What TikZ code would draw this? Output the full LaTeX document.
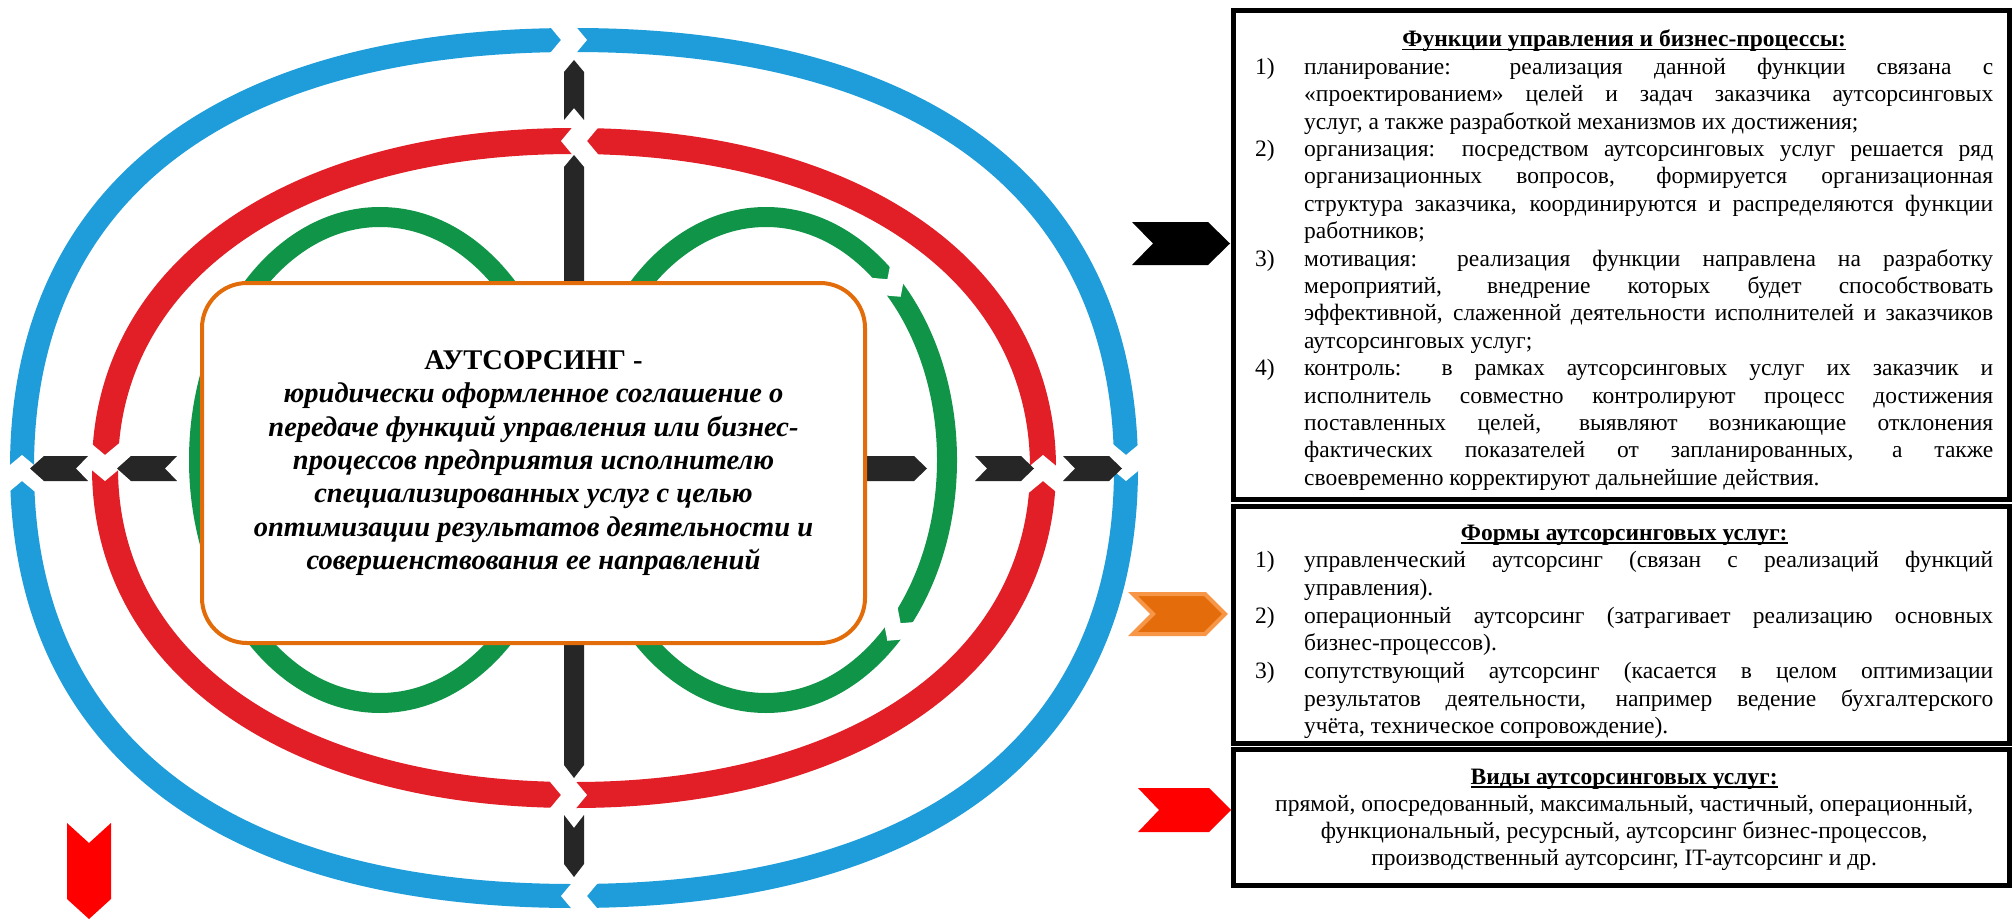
\documentclass[tikz,border=0pt]{standalone}
\usepackage{fontspec}
\setmainfont{Liberation Serif}
\definecolor{bandblue}{RGB}{30,157,218}
\definecolor{bandred}{RGB}{226,30,38}
\definecolor{bandgreen}{RGB}{16,148,72}
\definecolor{arrowblack}{RGB}{38,38,38}
\definecolor{boxorange}{RGB}{227,108,10}
\definecolor{chevorange}{RGB}{228,108,10}
\definecolor{chevorangelight}{RGB}{247,150,70}
\definecolor{chevred}{RGB}{255,0,0}
\newcommand{\squircle}[6]{\draw[#6] ({#1+#3},{#2}) .. controls ({#1+#3},{#2+#5*#4}) and ({#1+#5*#3},{#2+#4}) .. ({#1},{#2+#4}) .. controls ({#1-#5*#3},{#2+#4}) and ({#1-#3},{#2+#5*#4}) .. ({#1-#3},{#2}) .. controls ({#1-#3},{#2-#5*#4}) and ({#1-#5*#3},{#2-#4}) .. ({#1},{#2-#4}) .. controls ({#1+#5*#3},{#2-#4}) and ({#1+#3},{#2-#5*#4}) .. ({#1+#3},{#2}) -- cycle;}
\newcommand{\gapcut}[6]{\fill[white,shift={(#1,#2)},rotate=#3] ({-#4/2-#6*#5},{-#5}) -- ({-#4/2},0) -- ({-#4/2-#6*#5},{#5}) -- ({#4/2-#6*#5},{#5}) -- ({#4/2},0) -- ({#4/2-#6*#5},{-#5}) -- cycle;}
\newcommand{\ulin}[1]{\setbox0=\hbox{#1}\rlap{\rule[-3.5pt]{\wd0}{1.8pt}}\box0}
\newcommand{\itemfirst}[2]{\hbox{\hbox to 49pt{#1\hfil}\hbox to 689pt{#2}}}
\newcommand{\itemjust}[1]{\hbox{\hskip49pt\hbox to 689pt{#1}}}
\newcommand{\itemlast}[1]{\hbox{\hskip49pt #1}}
\newcommand{\headline}[1]{\hbox to 738pt{\hfil\bfseries\ulin{#1}\hfil}}
\newcommand{\centline}[1]{\hbox to 738pt{\hfil #1\hfil}}
\tikzset{
  blueband/.style={draw=bandblue, line width=24pt},
  redband/.style={draw=bandred, line width=26pt},
  greenband/.style={draw=bandgreen, line width=20pt},
  blackarrow/.style={fill=arrowblack},
  outbox/.style={draw=black, line width=5pt},
  txt/.style={inner sep=0pt, anchor=base west, font=\fontsize{23.5}{27.4}\selectfont},
  defbox/.style={draw=boxorange, line width=4pt, rounded corners=45pt, fill=white,
    minimum width=663pt, minimum height=360pt, inner sep=0pt, align=center,
    font=\fontsize{28.5}{33.4}\selectfont\bfseries\itshape},
}
\begin{document}
\begin{tikzpicture}[x=1pt,y=-1pt]
\useasboundingbox (0,0) rectangle (2015,920);
\fill[white] (0,0) rectangle (2015,920);
% bands
\squircle{574}{468}{552}{428}{0.64}{blueband}
\squircle{574}{468}{469}{327}{0.60}{redband}
\draw[greenband] (380,460) ellipse [x radius=181, y radius=243];
\draw[greenband] (766,460) ellipse [x radius=181, y radius=243];
% gaps in blue (clockwise)
\gapcut{574}{40}{0}{26}{20}{0.83}
\gapcut{1126}{468}{-90}{26}{20}{0.83}
\gapcut{574}{896}{180}{26}{20}{0.83}
\gapcut{22}{468}{90}{26}{20}{0.83}
% gaps in red (counter-clockwise)
\gapcut{574}{141}{180}{26}{21}{0.83}
\gapcut{105}{468}{-90}{26}{21}{0.83}
\gapcut{574}{795}{0}{26}{21}{0.83}
\gapcut{1043}{468}{90}{26}{21}{0.83}
% gaps in right green
\gapcut{894}{288}{-53}{22}{16}{0.9}
\gapcut{894}{632}{-127}{22}{16}{0.9}
% black arrows, vertical
\fill[blackarrow] (574,60) -- (584,72) -- (584,120) -- (574,108) -- (564,120) -- (564,72) -- cycle;
\fill[blackarrow] (574,155) -- (584,167) -- (584,420) -- (564,420) -- (564,167) -- cycle;
\fill[blackarrow] (564,500) -- (584,500) -- (584,765) -- (574,778) -- (564,765) -- cycle;
\fill[blackarrow] (564,815) -- (574,828) -- (584,815) -- (584,864) -- (574,877) -- (564,864) -- cycle;
% black arrows, horizontal
\fill[blackarrow] (30,468.5) -- (44,456) -- (88,456) -- (76,468.5) -- (88,481) -- (44,481) -- cycle;
\fill[blackarrow] (117,468.5) -- (131,456) -- (177,456) -- (165,468.5) -- (177,481) -- (131,481) -- cycle;
\fill[blackarrow] (800,456) -- (914,456) -- (927,468.5) -- (914,481) -- (800,481) -- cycle;
\fill[blackarrow] (975,456) -- (1021,456) -- (1034,468.5) -- (1021,481) -- (975,481) -- (987,468.5) -- cycle;
\fill[blackarrow] (1063,456) -- (1109,456) -- (1122,468.5) -- (1109,481) -- (1063,481) -- (1075,468.5) -- cycle;
% central box
\node[defbox] (def) at (533.5,463) {{\upshape АУТСОРСИНГ -}\\юридически оформленное соглашение о\\передаче функций управления или бизнес-\\процессов предприятия исполнителю\\специализированных услуг с целью\\оптимизации результатов деятельности и\\совершенствования ее направлений};
% right boxes
\draw[outbox] (1233,11) rectangle (2009,499);
\draw[outbox] (1233,506) rectangle (2009,743);
\draw[outbox] (1233,749) rectangle (2009,885);
% chevrons
\fill[black] (1132,222) -- (1208,222) -- (1230,243.5) -- (1208,265) -- (1132,265) -- (1153,243.5) -- cycle;
\filldraw[fill=chevorange, draw=chevorangelight, line width=4pt, line join=miter] (1133,594) -- (1205,594) -- (1225,614) -- (1205,634) -- (1133,634) -- (1153,614) -- cycle;
\fill[chevred] (1138,788) -- (1209,788) -- (1231,810) -- (1209,832) -- (1138,832) -- (1159,810) -- cycle;
\fill[chevred] (67,823) -- (89,843) -- (111,823) -- (111,899) -- (89,919) -- (67,899) -- cycle;
% texts
\node[txt] (funcs) at (1255,47) {\vtop{\baselineskip=27.4pt
\headline{Функции управления и бизнес-процессы:}
\itemfirst{1)}{планирование: реализация данной функции связана с}
\itemjust{«проектированием» целей и задач заказчика аутсорсинговых}
\itemlast{услуг, а также разработкой механизмов их достижения;}
\itemfirst{2)}{организация: посредством аутсорсинговых услуг решается ряд}
\itemjust{организационных вопросов, формируется организационная}
\itemjust{структура заказчика, координируются и распределяются функции}
\itemlast{работников;}
\itemfirst{3)}{мотивация: реализация функции направлена на разработку}
\itemjust{мероприятий, внедрение которых будет способствовать}
\itemjust{эффективной, слаженной деятельности исполнителей и заказчиков}
\itemlast{аутсорсинговых услуг;}
\itemfirst{4)}{контроль: в рамках аутсорсинговых услуг их заказчик и}
\itemjust{исполнитель совместно контролируют процесс достижения}
\itemjust{поставленных целей, выявляют возникающие отклонения}
\itemjust{фактических показателей от запланированных, а также}
\itemlast{своевременно корректируют дальнейшие действия.}}};
\node[txt] (forms) at (1255,540) {\vtop{\baselineskip=27.7pt
\headline{Формы аутсорсинговых услуг:}
\itemfirst{1)}{управленческий аутсорсинг (связан с реализаций функций}
\itemlast{управления).}
\itemfirst{2)}{операционный аутсорсинг (затрагивает реализацию основных}
\itemlast{бизнес-процессов).}
\itemfirst{3)}{сопутствующий аутсорсинг (касается в целом оптимизации}
\itemjust{результатов деятельности, например ведение бухгалтерского}
\itemlast{учёта, техническое сопровождение).}}};
\node[txt] (kinds) at (1255,784) {\vtop{\baselineskip=27pt
\headline{Виды аутсорсинговых услуг:}
\centline{прямой, опосредованный, максимальный, частичный, операционный,}
\centline{функциональный, ресурсный, аутсорсинг бизнес-процессов,}
\centline{производственный аутсорсинг, IT-аутсорсинг и др.}}};
\end{tikzpicture}
\end{document}
